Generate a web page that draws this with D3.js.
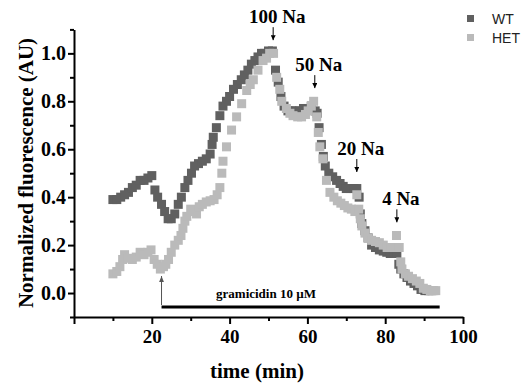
<!DOCTYPE html>
<html>
<head>
<meta charset="utf-8">
<script src="https://cdn.jsdelivr.net/npm/d3@7"></script>
<style>
  body { margin: 0; background: #fff; }
  svg { display: block; }
  .axis path, .axis line { stroke: #000; stroke-width: 2; }
  .axis text { font-family: "Liberation Serif", serif; font-weight: bold; fill: #000; }
</style>
</head>
<body>
<div id="chart"></div>
<script>
// WT trace (dark squares)
const wtTime = [10, 11, 12, 13, 14, 15, 16, 17, 18, 19, 20, 20.8, 21.5, 22.5, 23.3, 24.2, 25, 25.9, 26.8, 27.6,
  28.5, 29.3, 30.2, 31, 32, 33, 34, 35, 35.5, 35.8, 36.6, 37.5, 38.3, 39.2, 40, 41, 42, 43, 43.8, 44.7,
  45.6, 46.5, 47.3, 48.2, 49, 50, 51, 51.8, 52.5, 53.2, 54, 55, 56, 57, 58, 59, 60, 61, 62, 62.5,
  63, 63.6, 64.1, 64.6, 65.5, 66.5, 67.5, 68.4, 69.2, 70, 71, 72, 72.7, 73.3, 73.6, 74, 74.8, 75.6, 76.5, 77.5,
  78.5, 79.5, 80.4, 81.3, 82.2, 83, 83.5, 84, 84.8, 85.6, 86.5, 87.4, 88.3, 89.2, 90.2, 91.2, 92];
const wtValue = [0.39, 0.39, 0.40, 0.41, 0.42, 0.44, 0.45, 0.47, 0.47, 0.48, 0.49, 0.43, 0.40, 0.37, 0.34, 0.31, 0.31, 0.33, 0.37, 0.40,
  0.44, 0.47, 0.50, 0.53, 0.54, 0.55, 0.56, 0.58, 0.62, 0.65, 0.69, 0.74, 0.78, 0.80, 0.82, 0.85, 0.87, 0.89, 0.91, 0.93,
  0.955, 0.97, 0.985, 1.0, 1.0, 1.01, 1.01, 0.93, 0.88, 0.82, 0.78, 0.76, 0.76, 0.76, 0.76, 0.77, 0.77, 0.78, 0.76, 0.75,
  0.69, 0.62, 0.57, 0.53, 0.50, 0.485, 0.47, 0.457, 0.445, 0.436, 0.436, 0.436, 0.436, 0.40, 0.33, 0.29, 0.26, 0.23, 0.20, 0.19,
  0.18, 0.175, 0.17, 0.165, 0.165, 0.165, 0.12, 0.10, 0.08, 0.065, 0.05, 0.04, 0.03, 0.015, 0.01, 0.01, 0.01];

// HET trace (light squares)
const hetTime = [10, 11, 11.8, 12.5, 13, 14, 15, 16, 17, 18, 19, 19.8, 20.6, 21.4, 22.2, 23, 23.6, 24.3, 25, 25.9,
  26.8, 27.5, 28, 28.5, 29, 30, 31, 31.5, 32.2, 33, 34, 35, 36, 36.8, 37.5, 38, 38.3, 39.2, 40.5, 41.8,
  43.1, 44.4, 45.3, 46.1, 47.3, 48.6, 49.5, 50.3, 51.3, 52.1, 52.9, 53.4, 54.6, 55.5, 56.3, 57.5, 58.5, 59.5, 60.2, 61,
  61.6, 62.4, 62.8, 63.2, 64, 64.9, 65.8, 66.8, 67.7, 68.6, 69.5, 70.4, 71.3, 72.2, 72.7, 73.2, 73.6, 74, 74.8, 75.6,
  76.5, 77.5, 78.5, 79.5, 80.5, 81.4, 82.3, 82.9, 83.6, 84, 84.3, 85.2, 86, 87, 88, 88.9, 89.8, 90.7, 91.6, 92.5, 93];
const hetValue = [0.08, 0.09, 0.11, 0.14, 0.16, 0.145, 0.14, 0.15, 0.17, 0.16, 0.17, 0.18, 0.14, 0.12, 0.10, 0.11, 0.12, 0.14, 0.17, 0.20,
  0.22, 0.24, 0.27, 0.30, 0.32, 0.35, 0.34, 0.33, 0.36, 0.37, 0.38, 0.385, 0.39, 0.41, 0.44, 0.50, 0.55, 0.61, 0.68, 0.735,
  0.79, 0.845, 0.87, 0.89, 0.93, 0.97, 0.98, 1.0, 1.0, 0.90, 0.85, 0.80, 0.77, 0.75, 0.74, 0.735, 0.735, 0.745, 0.76, 0.78,
  0.80, 0.735, 0.67, 0.61, 0.56, 0.47, 0.42, 0.40, 0.385, 0.375, 0.365, 0.355, 0.35, 0.34, 0.41, 0.35, 0.31, 0.28, 0.25, 0.23,
  0.22, 0.215, 0.21, 0.20, 0.19, 0.19, 0.19, 0.24, 0.19, 0.13, 0.10, 0.08, 0.07, 0.06, 0.05, 0.04, 0.02, 0.015, 0.01, 0.01, 0.01];

// Na steps
const naLabels = ['100 Na', '50 Na', '20 Na', '4 Na'];
const naTime = [51.2, 61.9, 72.7, 83];
const naArrowTip = [1.055, 0.855, 0.505, 0.295];

// gramicidin application
const gramStart = 22.5;
const gramEnd = 94;
const gramLabel = 'gramicidin 10 \u00b5M';

const xMajorTicks = [0, 20, 40, 60, 80, 100];
const xMinorTicks = [10, 30, 50, 70, 90];
const yMajorTicks = [0, 0.2, 0.4, 0.6, 0.8, 1.0];
const yMinorTicks = [-0.1, 0.1, 0.3, 0.5, 0.7, 0.9, 1.1];

const width = 525, height = 390;
const svg = d3.select('#chart').append('svg')
    .attr('width', width)
    .attr('height', height);

const x = d3.scaleLinear().domain([0, 100]).range([74, 463]);
const y = d3.scaleLinear().domain([-0.1, 1.1]).range([317, 29.4]);

// axes
svg.append('g')
    .attr('class', 'axis')
    .attr('transform', `translate(0,${y(-0.1)})`)
    .call(d3.axisBottom(x).tickValues(xMajorTicks).tickSize(7).tickSizeOuter(0).tickPadding(6)
        .tickFormat(d => d === 0 ? '' : d))
    .selectAll('text').style('font-size', '19px');

svg.append('g')
    .attr('class', 'axis')
    .attr('transform', `translate(0,${y(-0.1)})`)
    .call(d3.axisBottom(x).tickValues(xMinorTicks).tickSize(4).tickSizeOuter(0).tickFormat(''))
    .select('.domain').remove();

svg.append('g')
    .attr('class', 'axis')
    .attr('transform', `translate(${x(0)},0)`)
    .call(d3.axisLeft(y).tickValues(yMajorTicks).tickSize(6).tickSizeOuter(0).tickPadding(2)
        .tickFormat(d3.format('.1f')))
    .selectAll('text').style('font-size', '20px');

svg.append('g')
    .attr('class', 'axis')
    .attr('transform', `translate(${x(0)},0)`)
    .call(d3.axisLeft(y).tickValues(yMinorTicks).tickSize(4).tickSizeOuter(0).tickFormat(''))
    .select('.domain').remove();

// axis titles
svg.append('text')
    .attr('x', 257)
    .attr('y', 378)
    .attr('text-anchor', 'middle')
    .style('font-family', '"Liberation Serif", serif')
    .style('font-weight', 'bold')
    .style('font-size', '21px')
    .text('time (min)');

svg.append('text')
    .attr('transform', 'translate(33,173) rotate(-90)')
    .attr('text-anchor', 'middle')
    .style('font-family', '"Liberation Serif", serif')
    .style('font-weight', 'bold')
    .style('font-size', '21px')
    .text('Normalized fluorescence (AU)');

// data squares
const size = 9;
function drawSeries(times, values, color) {
    svg.append('g')
        .selectAll('rect')
        .data(times.map((t, i) => [t, values[i]]))
        .enter()
        .append('rect')
        .attr('x', d => x(d[0]) - size / 2)
        .attr('y', d => y(d[1]) - size / 2)
        .attr('width', size)
        .attr('height', size)
        .attr('fill', color);
}
drawSeries(wtTime, wtValue, '#606060');
drawSeries(hetTime, hetValue, '#bababa');

// arrow heads
const defs = svg.append('defs');
defs.append('marker')
    .attr('id', 'head')
    .attr('viewBox', '0 0 10 10')
    .attr('refX', 10)
    .attr('refY', 5)
    .attr('markerWidth', 5)
    .attr('markerHeight', 5)
    .attr('markerUnits', 'userSpaceOnUse')
    .attr('orient', 'auto')
    .append('path')
    .attr('d', 'M0,0 L10,5 L0,10 z')
    .attr('fill', '#000');
defs.append('marker')
    .attr('id', 'headGray')
    .attr('viewBox', '0 0 10 10')
    .attr('refX', 10)
    .attr('refY', 5)
    .attr('markerWidth', 6)
    .attr('markerHeight', 6)
    .attr('markerUnits', 'userSpaceOnUse')
    .attr('orient', 'auto')
    .append('path')
    .attr('d', 'M0,1 L10,5 L0,9 z')
    .attr('fill', '#555');

// Na annotations
naLabels.forEach((label, i) => {
    const ax = x(naTime[i]);
    const tip = y(naArrowTip[i]);
    svg.append('line')
        .attr('x1', ax).attr('y1', tip - 13)
        .attr('x2', ax).attr('y2', tip)
        .attr('stroke', '#000')
        .attr('stroke-width', 1)
        .attr('marker-end', 'url(#head)');
    svg.append('text')
        .attr('x', ax + 4)
        .attr('y', tip - 17)
        .attr('text-anchor', 'middle')
        .style('font-family', '"Liberation Serif", serif')
        .style('font-weight', 'bold')
        .style('font-size', '19px')
        .text(label);
});

// gramicidin bar + arrow
svg.append('line')
    .attr('x1', x(gramStart)).attr('x2', x(gramEnd))
    .attr('y1', 307).attr('y2', 307)
    .attr('stroke', '#000')
    .attr('stroke-width', 3);
svg.append('line')
    .attr('x1', x(gramStart)).attr('x2', x(gramStart))
    .attr('y1', 305).attr('y2', 276)
    .attr('stroke', '#555')
    .attr('stroke-width', 1)
    .attr('marker-end', 'url(#headGray)');
svg.append('text')
    .attr('x', 266)
    .attr('y', 298)
    .attr('text-anchor', 'middle')
    .style('font-family', '"Liberation Serif", serif')
    .style('font-weight', 'bold')
    .style('font-size', '13px')
    .text(gramLabel);

// legend
const legendItems = [['WT', '#606060'], ['HET', '#bababa']];
legendItems.forEach((item, i) => {
    svg.append('rect')
        .attr('x', 467)
        .attr('y', 15 + i * 19)
        .attr('width', 7)
        .attr('height', 7)
        .attr('fill', item[1]);
    svg.append('text')
        .attr('x', 492)
        .attr('y', 24 + i * 19)
        .style('font-family', '"Liberation Sans", Arial, sans-serif')
        .style('font-size', '14px')
        .style('fill', '#222')
        .text(item[0]);
});
</script>
</body>
</html>
